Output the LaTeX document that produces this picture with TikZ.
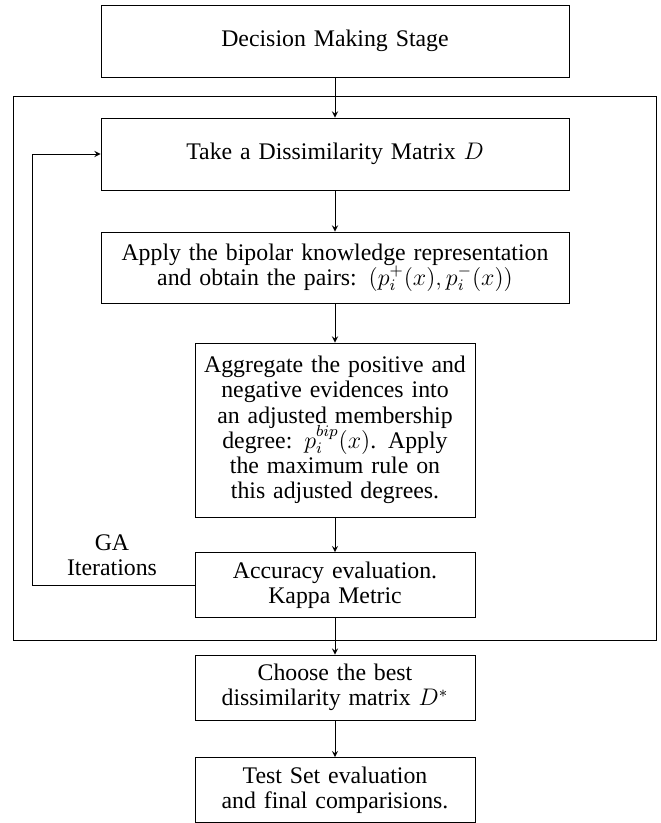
\documentclass[tikz,border=0pt]{standalone}
\usepackage{fontspec}
\setmainfont{Liberation Serif}
\usetikzlibrary{arrows}

\newcommand{\boxfont}{\fontsize{11.9}{12.6}\selectfont\lineskiplimit=-6pt\relax}

\tikzset{
  every node/.style={font=\boxfont},
  stagebox/.style={draw, align=center, inner sep=4.5pt, text width=225pt, minimum height=36pt},
  smallbox/.style={draw, align=center, inner sep=4.5pt, text width=131pt, minimum height=32pt}
}

\begin{document}
\begin{tikzpicture}[x=0.5pt, y=-0.5pt]
\useasboundingbox (0,0) rectangle (660,823);

\draw (13,96) rectangle (656,640);

\node [stagebox] at (335,41) (dec) {Decision Making Stage};
\node [stagebox] at (335,154) (take) {Take a Dissimilarity Matrix $D$};
\node [stagebox, minimum height=35.5pt] at (335,267.5) (bip) {Apply the bipolar knowledge representation\\and obtain the pairs: $(p_i^+(x), p_i^-(x))$};
\node [smallbox, minimum height=87pt] at (335,430) (agg) {Aggregate the positive and\\negative evidences into\\an adjusted membership\\degree: $p_i^{bip}(x)$. Apply\\the maximum rule on\\this adjusted degrees.};
\node [smallbox] at (335,585) (acc) {Accuracy evaluation.\\Kappa Metric};
\node [smallbox, minimum height=31.5pt] at (335,687.5) (best) {Choose the best\\dissimilarity matrix $D^*$};
\node [smallbox] at (335,790) (test) {Test Set evaluation\\and final comparisions.};

\node [align=center] at (112,555) (ga) {GA\\Iterations};

\draw [-stealth] (dec) -- (take);
\draw [-stealth] (take) -- (bip);
\draw [-stealth] (bip) -- (agg);
\draw [-stealth] (agg) -- (acc);
\draw [-stealth] (acc) -- (best);
\draw [-stealth] (best) -- (test);
\draw [-stealth] (acc.west) -- ++(-162,0) |- (take.west);
\end{tikzpicture}
\end{document}
